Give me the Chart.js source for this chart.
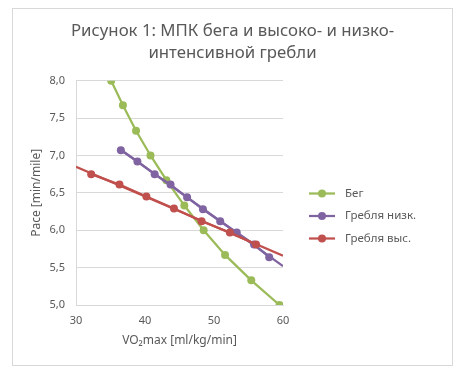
<!DOCTYPE html>
<html>
<head>
<meta charset="utf-8">
<script src="https://cdn.jsdelivr.net/npm/chart.js@4/dist/chart.umd.min.js"></script>
<style>
  html, body { margin: 0; padding: 0; background: #fff; }
  #frame {
    position: absolute; left: 12px; top: 8px;
    width: 441px; height: 358px;
    box-sizing: border-box; border: 1px solid #d9d9d9;
  }
  #chart { display: block; }
</style>
</head>
<body>
<div id="frame"><canvas id="chart" width="439" height="356"></canvas></div>
<script>
// --- données ---
const seriesNames = ['Бег', 'Гребля низк.', 'Гребля выс.'];
const runX = [35.1, 36.8, 38.7, 40.8, 43.1, 45.7, 48.5, 51.6, 55.4, 59.5];
const runY = [8.0, 7.67, 7.33, 7.0, 6.67, 6.33, 6.0, 5.67, 5.33, 5.0];
const rowLowX = [36.5, 38.9, 41.4, 43.7, 46.1, 48.4, 50.9, 53.3, 55.8, 58.0];
const rowLowY = [7.07, 6.92, 6.75, 6.61, 6.44, 6.28, 6.12, 5.97, 5.81, 5.64];
const rowHighX = [32.2, 36.3, 40.2, 44.2, 48.2, 52.3, 56.1];
const rowHighY = [6.75, 6.61, 6.45, 6.29, 6.12, 5.97, 5.81];
const xTicks = [30, 40, 50, 60];
const yTicks = [5.0, 5.5, 6.0, 6.5, 7.0, 7.5, 8.0];

const colors = ['#9bbb59', '#8064a2', '#c0504d'];
const FONT = '"Noto Sans", "Open Sans", sans-serif';
const GREY = '#595959';

function pts(xs, ys) {
    return xs.map((x, i) => ({ x: x, y: ys[i] }));
}

// droite de tendance (moindres carrés), prolongée jusqu'aux bornes voulues
function trend(xs, ys, x0, x1) {
    const n = xs.length;
    const mx = xs.reduce((a, b) => a + b, 0) / n;
    const my = ys.reduce((a, b) => a + b, 0) / n;
    let sxy = 0, sxx = 0;
    xs.forEach((x, i) => { sxy += (x - mx) * (ys[i] - my); sxx += (x - mx) * (x - mx); });
    const k = sxy / sxx;
    return [{ x: x0, y: my + k * (x0 - mx) }, { x: x1, y: my + k * (x1 - mx) }];
}

const xMin = xTicks[0], xMax = xTicks[xTicks.length - 1];

function serie(label, data, color, order) {
    return {
        label: label, data: data, showLine: true,
        borderColor: color, backgroundColor: color,
        borderWidth: 2.25, pointRadius: 4, pointHoverRadius: 4,
        pointBorderWidth: 0, order: order
    };
}
function trendSerie(data, color, order) {
    return {
        label: '', data: data, showLine: true, isTrend: true,
        borderColor: color, borderWidth: 2.25, pointRadius: 0, order: order
    };
}

// légende dessinée à droite de la zone de tracé (trait + rond, comme Excel)
const sideLegend = {
    id: 'sideLegend',
    afterDraw(chart) {
        const ctx = chart.ctx;
        const x0 = chart.chartArea.right + 26;
        const y0 = 184.5;
        const step = 22.5;
        ctx.save();
        ctx.font = '11.5px ' + FONT;
        ctx.textBaseline = 'middle';
        let row = 0;
        chart.data.datasets.forEach(ds => {
            if (ds.isTrend) return;
            const y = y0 + row * step;
            ctx.strokeStyle = ds.borderColor;
            ctx.lineWidth = 2.25;
            ctx.beginPath(); ctx.moveTo(x0, y); ctx.lineTo(x0 + 26, y); ctx.stroke();
            ctx.fillStyle = ds.borderColor;
            ctx.beginPath(); ctx.arc(x0 + 13, y, 4, 0, Math.PI * 2); ctx.fill();
            ctx.fillStyle = GREY;
            ctx.fillText(ds.label, x0 + 36, y);
            row++;
        });
        ctx.restore();
    }
};

new Chart(document.getElementById('chart'), {
    type: 'scatter',
    data: {
        datasets: [
            serie(seriesNames[0], pts(runX, runY), colors[0], 6),
            serie(seriesNames[1], pts(rowLowX, rowLowY), colors[1], 4),
            serie(seriesNames[2], pts(rowHighX, rowHighY), colors[2], 2),
            trendSerie(trend(rowLowX, rowLowY, rowLowX[0], xMax), colors[1], 5),
            trendSerie(trend(rowHighX, rowHighY, xMin, xMax), colors[2], 3)
        ]
    },
    plugins: [sideLegend],
    options: {
        responsive: false,
        animation: false,
        layout: { padding: { left: 0, right: 0, top: 0, bottom: 13 } },
        plugins: {
            tooltip: { enabled: false },
            legend: { display: false },
            title: {
                display: true,
                text: ['Рисунок 1: МПК бега и высоко- и низко-', 'интенсивной гребли'],
                color: GREY,
                font: { family: FONT, size: 16.8, weight: 'normal', lineHeight: 1.3 },
                padding: { top: 11, bottom: 17 }
            }
        },
        scales: {
            x: {
                type: 'linear', min: xMin, max: xMax,
                afterBuildTicks: s => { s.ticks = xTicks.map(v => ({ value: v })); },
                grid: { display: false },
                border: { display: true, color: '#d9d9d9' },
                ticks: { color: GREY, font: { family: FONT, size: 11 }, padding: 1 },
                title: {
                    display: true, text: 'VO₂max [ml/kg/min]', color: GREY,
                    font: { family: FONT, size: 12 }, padding: { top: 4 }
                },
                afterFit: s => { s.height = 47; }
            },
            y: {
                type: 'linear', min: 5, max: 8,
                afterBuildTicks: s => { s.ticks = yTicks.map(v => ({ value: v })); },
                grid: { color: '#d9d9d9', drawTicks: false },
                border: { display: true, color: '#d9d9d9' },
                ticks: {
                    color: GREY, font: { family: FONT, size: 11 }, padding: 11,
                    callback: v => v.toFixed(1).replace('.', ',')
                },
                title: {
                    display: true, text: 'Pace [min/mile]', color: GREY,
                    font: { family: FONT, size: 12 }, padding: { top: 16 }
                },
                afterFit: s => { s.width = 63; }
            },
            // axe vide à droite : réserve la place de la légende
            side: {
                type: 'linear', position: 'right', display: true,
                grid: { display: false }, border: { display: false },
                ticks: { display: false }, title: { display: false },
                afterFit: s => { s.width = 169; }
            }
        }
    }
});
</script>
</body>
</html>
